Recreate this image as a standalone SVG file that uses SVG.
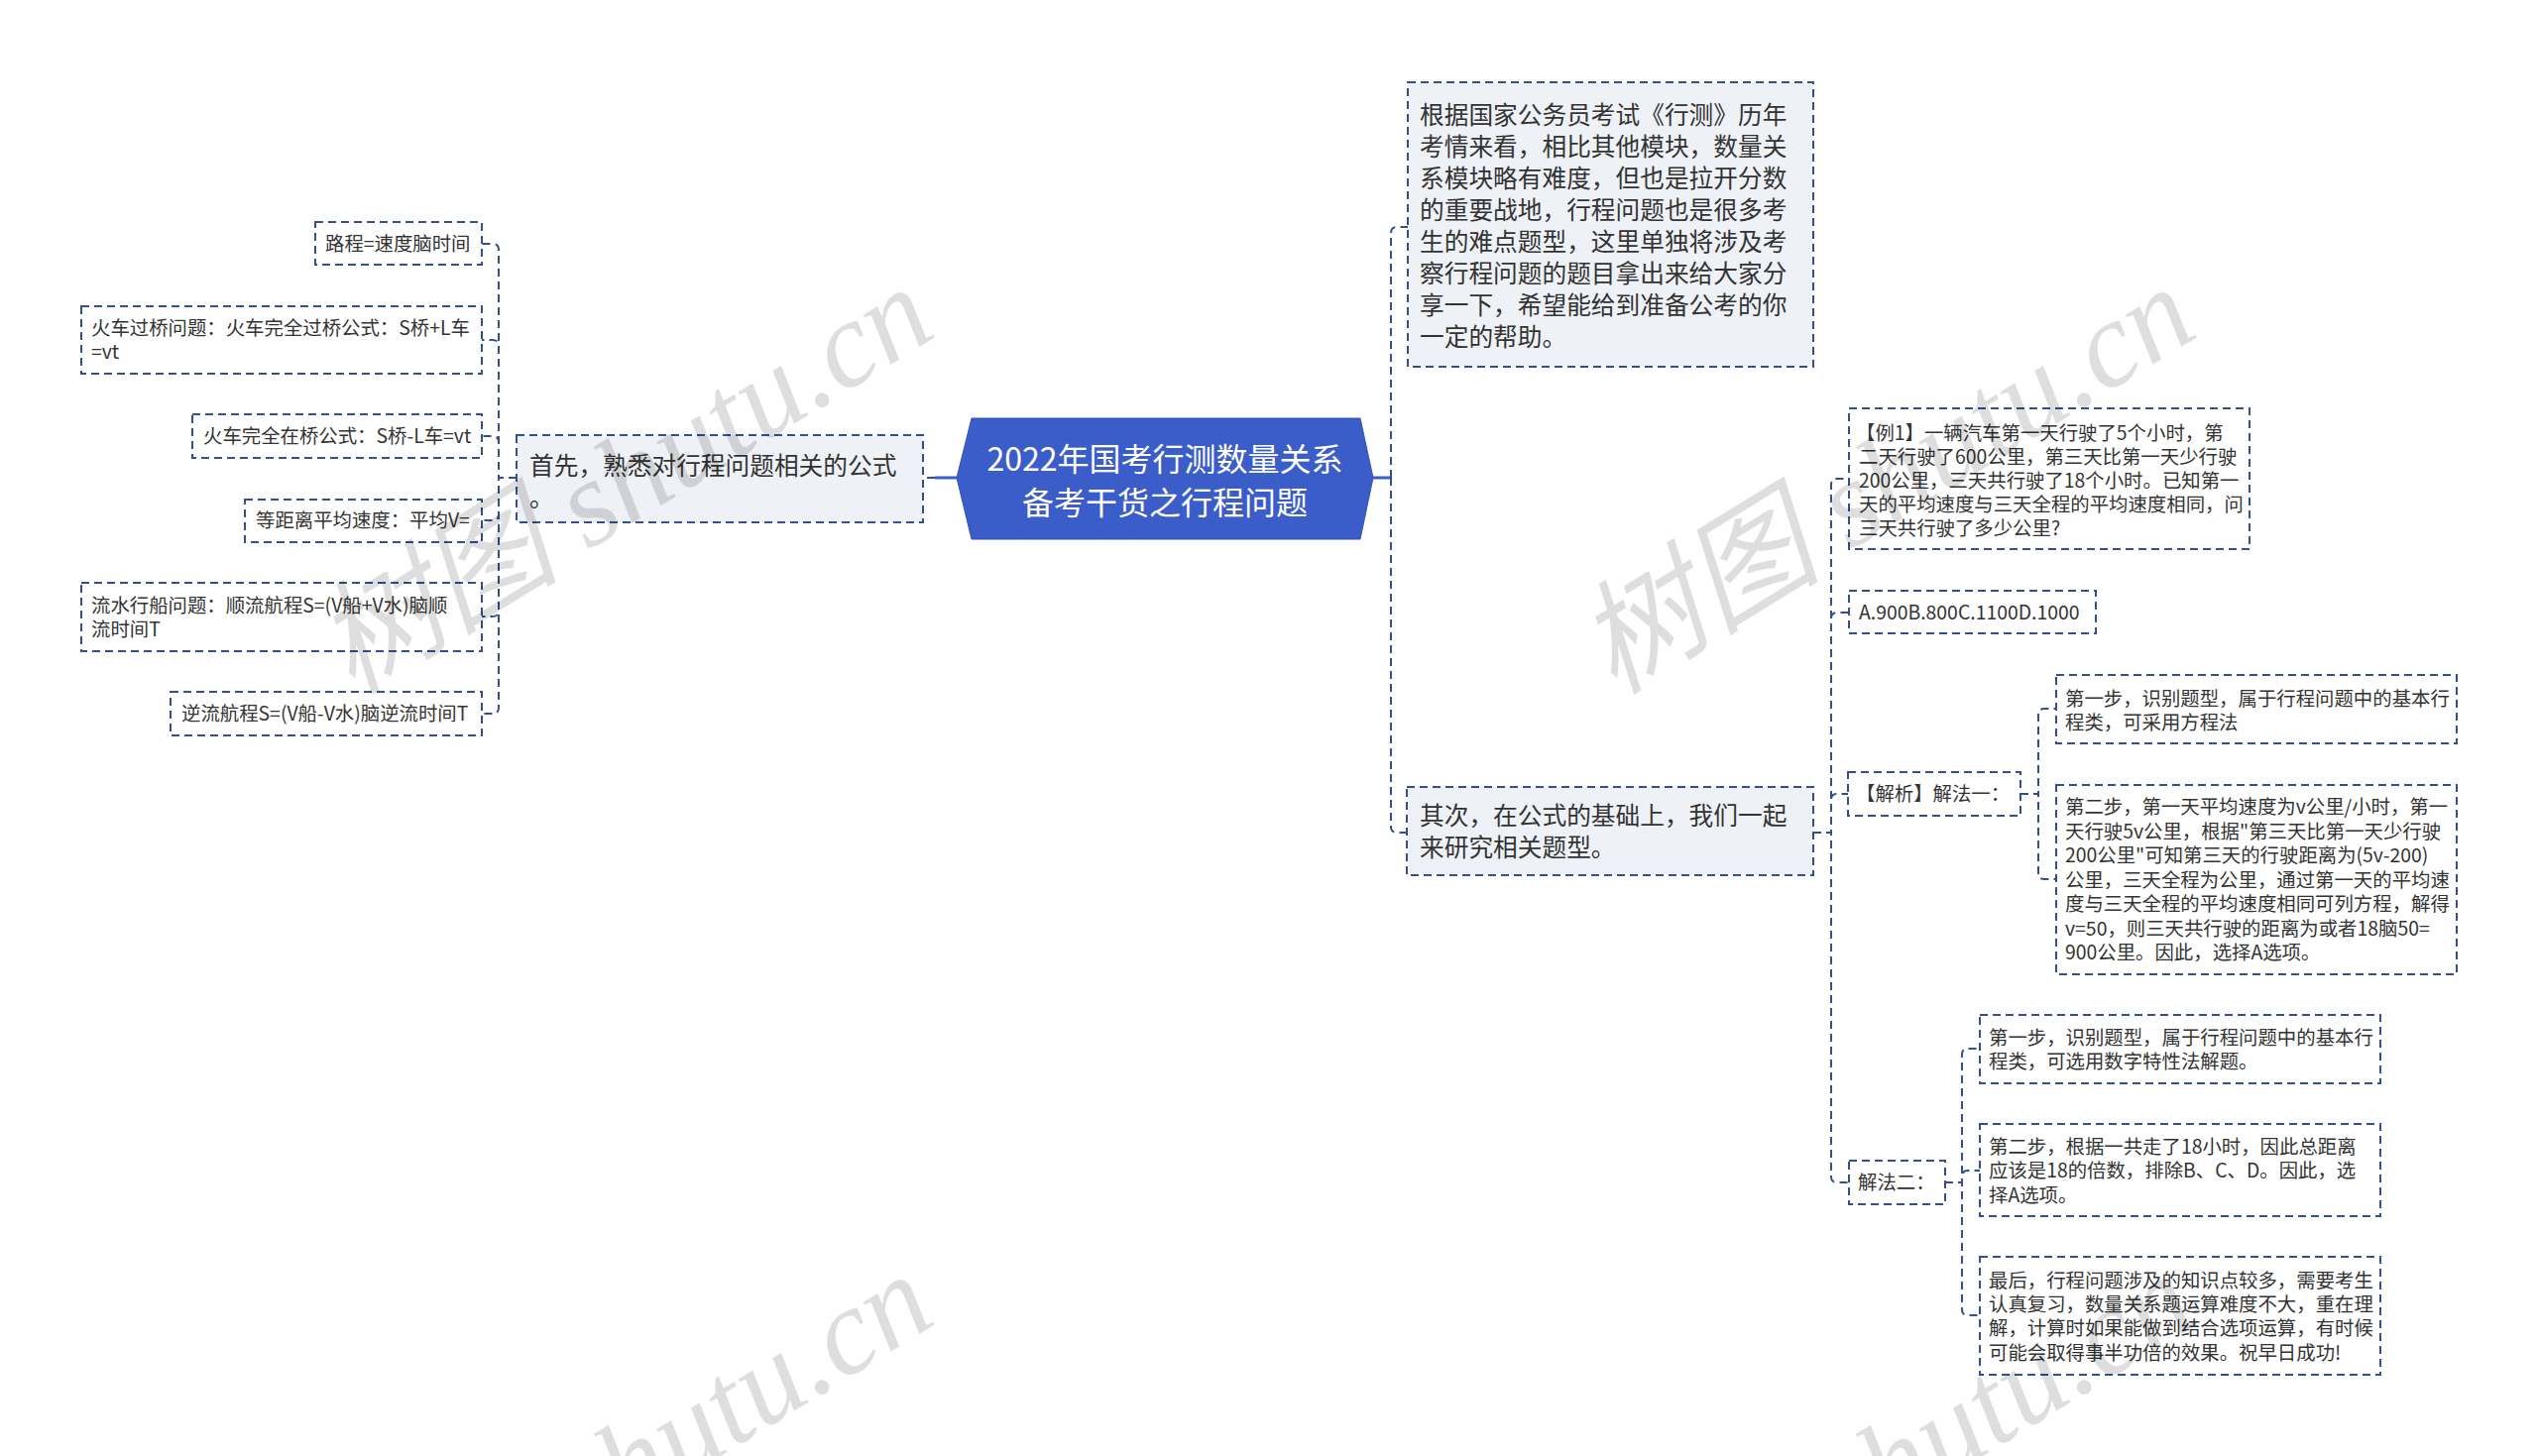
<svg xmlns="http://www.w3.org/2000/svg" width="2560" height="1469" viewBox="0 0 2560 1469">
<style>
  .t1 { font-family: "Noto Sans CJK SC", "Liberation Sans", sans-serif; font-size: 24.7px; fill: #333333; }
  .t2 { font-family: "Noto Sans CJK SC", "Liberation Sans", sans-serif; font-size: 19.4px; fill: #333333; }
  .troot { font-family: "Noto Sans CJK SC", "Liberation Sans", sans-serif; font-size: 32px; fill: #ffffff; text-anchor: middle; }
  .b1 { fill: #eef1f6; stroke: #33508e; stroke-width: 2; stroke-dasharray: 8 5; }
  .b2 { fill: #ffffff; stroke: #33508e; stroke-width: 2; stroke-dasharray: 8 5; }
  .c { fill: none; stroke: #33508e; stroke-width: 2; stroke-dasharray: 8 5; }
  .cs { fill: none; stroke: #3b5dc9; stroke-width: 3; }
  .wm { font-family: "Liberation Serif", "Noto Sans CJK SC", serif; font-size: 124px; font-style: italic; fill: #000000; fill-opacity: 0.13; }
</style>

<g id="connectors">
  <path class="cs" d="M965 482 H943"/>
  <path class="c" d="M943 482 H931"/>
  <path class="c" d="M521 482 H503 V252 Q503 246 497 246 H486"/>
  <path class="c" d="M521 482 H503 V349 Q503 343 497 343 H486"/>
  <path class="c" d="M521 482 H503 V446 Q503 440 497 440 H486"/>
  <path class="c" d="M521 482 H503 V519 Q503 525 497 525 H486"/>
  <path class="c" d="M521 482 H503 V616 Q503 622 497 622 H486"/>
  <path class="c" d="M521 482 H503 V714 Q503 720 497 720 H486"/>

  <path class="cs" d="M1385 482 H1403"/>
  <path class="c" d="M1403 482 V235 Q1403 229 1409 229 H1420"/>
  <path class="c" d="M1403 482 V834 Q1403 840 1409 840 H1419"/>

  <path class="c" d="M1829 840 H1847 V489 Q1847 483 1853 483 H1865"/>
  <path class="c" d="M1829 840 H1847 V624 Q1847 618 1853 618 H1865"/>
  <path class="c" d="M1829 840 H1847 V807 Q1847 801 1853 801 H1864"/>
  <path class="c" d="M1829 840 H1847 V1187 Q1847 1193 1853 1193 H1865"/>

  <path class="c" d="M2038 801 H2056 V721 Q2056 715 2062 715 H2074"/>
  <path class="c" d="M2038 801 H2056 V881 Q2056 887 2062 887 H2074"/>

  <path class="c" d="M1962 1193 H1979 V1064 Q1979 1058 1985 1058 H1997"/>
  <path class="c" d="M1962 1193 H1979 V1187 Q1979 1181 1985 1181 H1997"/>
  <path class="c" d="M1962 1193 H1979 V1321 Q1979 1327 1985 1327 H1997"/>
</g>

<g id="root">
  <polygon points="980,422 1372,422 1385,482 1372,544 980,544 965,482" fill="#3b5dc9" stroke="#2f50b8" stroke-width="1"/>
  <text class="troot" x="1175" y="475">2022年国考行测数量关系</text>
  <text class="troot" x="1175" y="519">备考干货之行程问题</text>
</g>

<g id="n-shouxian">
  <rect class="b1" x="521" y="439" width="410" height="88"/>
  <text class="t1" x="534" y="479">首先，熟悉对行程问题相关的公式</text>
  <text class="t1" x="534" y="511">。</text>
</g>

<g id="n-l1">
  <rect class="b2" x="318" y="224" width="168" height="43"/>
  <text class="t2" x="328" y="253">路程=速度脑时间</text>
</g>
<g id="n-l2">
  <rect class="b2" x="82" y="309" width="404" height="68"/>
  <text class="t2" x="92" y="338">火车过桥问题：火车完全过桥公式：S桥+L车</text>
  <text class="t2" x="92" y="362">=vt</text>
</g>
<g id="n-l3">
  <rect class="b2" x="194" y="418" width="292" height="44"/>
  <text class="t2" x="205" y="447">火车完全在桥公式：S桥-L车=vt</text>
</g>
<g id="n-l4">
  <rect class="b2" x="247" y="504" width="239" height="43"/>
  <text class="t2" x="258" y="532">等距离平均速度：平均V=</text>
</g>
<g id="n-l5">
  <rect class="b2" x="82" y="588" width="404" height="69"/>
  <text class="t2" x="92" y="618">流水行船问题：顺流航程S=(V船+V水)脑顺</text>
  <text class="t2" x="92" y="642">流时间T</text>
</g>
<g id="n-l6">
  <rect class="b2" x="172" y="698" width="314" height="44"/>
  <text class="t2" x="183" y="727">逆流航程S=(V船-V水)脑逆流时间T</text>
</g>

<g id="n-genju">
  <rect class="b1" x="1420" y="83" width="409" height="287"/>
  <text class="t1" x="1432" y="124.5">根据国家公务员考试《行测》历年</text>
  <text class="t1" x="1432" y="156.6">考情来看，相比其他模块，数量关</text>
  <text class="t1" x="1432" y="188.7">系模块略有难度，但也是拉开分数</text>
  <text class="t1" x="1432" y="220.8">的重要战地，行程问题也是很多考</text>
  <text class="t1" x="1432" y="252.9">生的难点题型，这里单独将涉及考</text>
  <text class="t1" x="1432" y="285">察行程问题的题目拿出来给大家分</text>
  <text class="t1" x="1432" y="317.1">享一下，希望能给到准备公考的你</text>
  <text class="t1" x="1432" y="349.2">一定的帮助。</text>
</g>

<g id="n-qici">
  <rect class="b1" x="1419" y="794" width="410" height="89"/>
  <text class="t1" x="1432" y="832.4">其次，在公式的基础上，我们一起</text>
  <text class="t1" x="1432" y="864.4">来研究相关题型。</text>
</g>

<g id="n-li1">
  <rect class="b2" x="1865" y="412" width="404" height="142"/>
  <text class="t2" x="1872" y="443.5">【例1】一辆汽车第一天行驶了5个小时，第</text>
  <text class="t2" x="1875" y="467.7">二天行驶了600公里，第三天比第一天少行驶</text>
  <text class="t2" x="1875" y="491.9">200公里，三天共行驶了18个小时。已知第一</text>
  <text class="t2" x="1875" y="516.1">天的平均速度与三天全程的平均速度相同，问</text>
  <text class="t2" x="1875" y="540.3">三天共行驶了多少公里?</text>
</g>

<g id="n-options">
  <rect class="b2" x="1865" y="596" width="249" height="43"/>
  <text class="t2" x="1875" y="625">A.900B.800C.1100D.1000</text>
</g>

<g id="n-jiefa1">
  <rect class="b2" x="1864" y="779" width="174" height="44"/>
  <text class="t2" x="1872" y="808">【解析】解法一：</text>
</g>
<g id="n-j1s1">
  <rect class="b2" x="2074" y="681" width="404" height="69"/>
  <text class="t2" x="2083" y="711.5">第一步，识别题型，属于行程问题中的基本行</text>
  <text class="t2" x="2083" y="735.9">程类，可采用方程法</text>
</g>
<g id="n-j1s2">
  <rect class="b2" x="2074" y="792" width="404" height="191"/>
  <text class="t2" x="2083" y="821">第二步，第一天平均速度为v公里/小时，第一</text>
  <text class="t2" x="2083" y="845.5">天行驶5v公里，根据"第三天比第一天少行驶</text>
  <text class="t2" x="2083" y="870">200公里"可知第三天的行驶距离为(5v-200)</text>
  <text class="t2" x="2083" y="894.5">公里，三天全程为公里，通过第一天的平均速</text>
  <text class="t2" x="2083" y="919">度与三天全程的平均速度相同可列方程，解得</text>
  <text class="t2" x="2083" y="943.5">v=50，则三天共行驶的距离为或者18脑50=</text>
  <text class="t2" x="2083" y="968">900公里。因此，选择A选项。</text>
</g>

<g id="n-jiefa2">
  <rect class="b2" x="1865" y="1171" width="97" height="44"/>
  <text class="t2" x="1874" y="1200">解法二：</text>
</g>
<g id="n-j2s1">
  <rect class="b2" x="1997" y="1024" width="404" height="69"/>
  <text class="t2" x="2006" y="1053.7">第一步，识别题型，属于行程问题中的基本行</text>
  <text class="t2" x="2006" y="1078.1">程类，可选用数字特性法解题。</text>
</g>
<g id="n-j2s2">
  <rect class="b2" x="1997" y="1134" width="404" height="93"/>
  <text class="t2" x="2006" y="1163.5">第二步，根据一共走了18小时，因此总距离</text>
  <text class="t2" x="2006" y="1188">应该是18的倍数，排除B、C、D。因此，选</text>
  <text class="t2" x="2006" y="1212.5">择A选项。</text>
</g>
<g id="n-j2s3">
  <rect class="b2" x="1997" y="1268" width="404" height="119"/>
  <text class="t2" x="2006" y="1298.5">最后，行程问题涉及的知识点较多，需要考生</text>
  <text class="t2" x="2006" y="1322.9">认真复习，数量关系题运算难度不大，重在理</text>
  <text class="t2" x="2006" y="1347.3">解，计算时如果能做到结合选项运算，有时候</text>
  <text class="t2" x="2006" y="1371.7">可能会取得事半功倍的效果。祝早日成功!</text>
</g>

<g id="watermarks">
  <text class="wm" transform="translate(355,702) rotate(-31.6)">树图 shutu.cn</text>
  <text class="wm" transform="translate(1628,702) rotate(-31.6)">树图 shutu.cn</text>
  <text class="wm" transform="translate(355,1698) rotate(-31.6)">树图 shutu.cn</text>
  <text class="wm" transform="translate(1628,1698) rotate(-31.6)">树图 shutu.cn</text>
</g>
</svg>
